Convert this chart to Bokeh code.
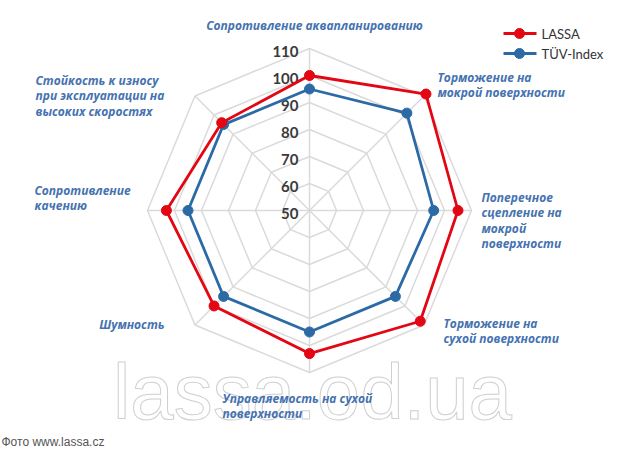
import numpy as np
from bokeh.plotting import figure
from bokeh.models import Range1d
from bokeh.core.properties import value
from bokeh.embed import file_html
from bokeh.resources import INLINE

# ---- data ----
categories = [
    "Сопротивление аквапланированию",
    "Торможение на\nмокрой поверхности",
    "Поперечное\nсцепление на\nмокрой\nповерхности",
    "Торможение на\nсухой поверхности",
    "Управляемость на сухой\nповерхности",
    "Шумность",
    "Сопротивление\nкачению",
    "Стойкость к износу\nпри эксплуатации на\nвысоких скоростях",
]
lassa = [100, 111, 105, 108, 103, 100, 103, 96]
tuv = [95, 101, 96, 95, 95, 95, 95, 95]
ticks = [50, 60, 70, 80, 90, 100, 110]
series_names = ["LASSA", "TÜV-Index"]

R0 = 50  # value at the centre
# ---- geometry ----
CX, CY, S = 309.0, 210.0, 2.7  # centre pixel and pixels per unit

def px(x, y):
    return (x - CX) / S, (CY - y) / S

n = len(categories)
ang = np.pi / 2 - np.arange(n) * 2 * np.pi / n

def polar(vals):
    r = np.array(vals, dtype=float) - R0
    return r * np.cos(ang), r * np.sin(ang)

W, H = 615, 456
x0, y0 = px(0, 0)
x1, y1 = px(W, H)
p = figure(width=W, height=H, output_backend="svg", toolbar_location=None,
           x_range=Range1d(x0, x1), y_range=Range1d(y1, y0), min_border=0)
p.axis.visible = False
p.grid.visible = False
p.outline_line_color = None
p.background_fill_color = "white"

# watermark
wx, wy = px(312, 391)
p.text([wx], [wy], text=["lassa.od.ua"], text_align="center", text_baseline="middle",
       text_font=value("Liberation Sans"), text_font_size="78px",
       text_color="white", text_outline_color="#cfcfcf")

# grid rings
grid_col = "#dadada"
for t in ticks[1:]:
    gx, gy = polar([t] * n)
    p.line(list(gx) + [gx[0]], list(gy) + [gy[0]], line_color=grid_col, line_width=1.5)
# spokes
ox, oy = polar([ticks[-1]] * n)
for i in range(n):
    p.line([0, ox[i]], [0, oy[i]], line_color=grid_col, line_width=1.5)

# tick labels
for t in ticks:
    ty = t - R0
    tx = -11 / S
    p.text([tx], [ty - 1.2], text=[str(t)], text_align="right", text_baseline="middle",
           text_font=value("Lato"), text_font_style="bold", text_font_size="15px",
           text_color="#3a3a3a")

red, blue = "#e30613", "#2c6aa6"
for vals, col in [(tuv, blue), (lassa, red)]:
    sx, sy = polar(vals)
    p.line(list(sx) + [sx[0]], list(sy) + [sy[0]], line_color=col, line_width=2.8)
    p.scatter(sx, sy, size=10, fill_color=col, line_color=col)

# category labels
lab_col = "#4572b0"
lab_pos = [
    (314, 25, "center"),
    (437, 77, "left"),
    (481, 197, "left"),
    (443, 323, "left"),
    (222, 398, "left"),
    (164, 324, "right"),
    (34, 190, "left"),
    (35, 80, "left"),
]
for cat, (lx, ly, al) in zip(categories, lab_pos):
    lines = cat.split("\n")
    for k, ln in enumerate(lines):
        tx, ty = px(lx, ly + k * 15.3)
        p.text([tx], [ty], text=[ln], text_align=al, text_baseline="middle",
               text_font=value("Open Sans"), text_font_style="bold italic",
               text_font_size="12px", text_color=lab_col)

# legend
for k, (name, col) in enumerate(zip(series_names, [red, blue])):
    ly = 33 + k * 20
    ax, ay = px(503, ly)
    bx, _ = px(536, ly)
    mx, _ = px(519, ly)
    p.line([ax, bx], [ay, ay], line_color=col, line_width=3)
    p.scatter([mx], [ay], size=10, fill_color=col, line_color=col)
    tx, _ = px(541, ly)
    p.text([tx], [ay], text=[name], text_align="left", text_baseline="middle",
           text_font=value("Lato"), text_font_size="13px", text_color="#333333")

# source credit
fx, fy = px(1, 441)
p.text([fx], [fy], text=["Фото www.lassa.cz"], text_align="left", text_baseline="middle",
       text_font=value("Liberation Sans"), text_font_size="12px", text_color="#555555")

open("out.html", "w").write(file_html(p, INLINE))
